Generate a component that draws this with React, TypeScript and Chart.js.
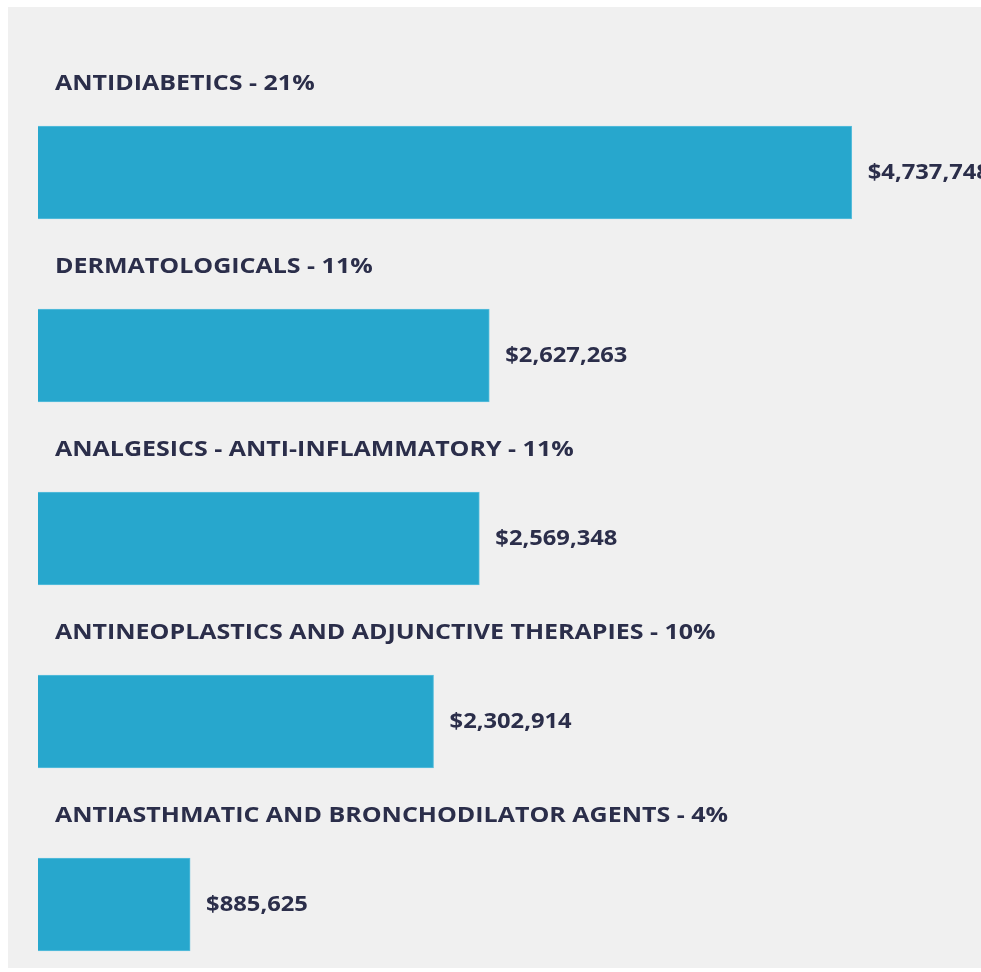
import React, { useEffect, useRef } from "react";
import { Chart, registerables } from "chart.js";

Chart.register(...registerables);

const categories = [
  "ANTIDIABETICS",
  "DERMATOLOGICALS",
  "ANALGESICS - ANTI-INFLAMMATORY",
  "ANTINEOPLASTICS AND ADJUNCTIVE THERAPIES",
  "ANTIASTHMATIC AND BRONCHODILATOR AGENTS",
];
const shares = [21, 11, 11, 10, 4];
const values = [4737748, 2627263, 2569348, 2302914, 885625];

const TEXT = "#2b2e4a";
const FONT = "'Open Sans', sans-serif";
const STRETCH = 1.19;
const VSTRETCH = 1.13;

const fmt = (v: number) => "$" + v.toLocaleString("en-US");

const labelPlugin = {
  id: "barLabels",
  afterDatasetsDraw(chart: any) {
    const ctx = chart.ctx;
    const meta = chart.getDatasetMeta(0);
    ctx.fillStyle = TEXT;
    ctx.textBaseline = "middle";
    ctx.textAlign = "left";
    ctx.font = `bold 21px ${FONT}`;
    meta.data.forEach((bar: any, i: number) => {
      ctx.save();
      ctx.scale(STRETCH, 1);
      ctx.fillText(`${categories[i]} - ${shares[i]}%`, 47 / STRETCH, bar.y - 88.5);
      ctx.restore();
      ctx.save();
      ctx.scale(VSTRETCH, 1);
      ctx.fillText(fmt(values[i]), (bar.x + 16) / VSTRETCH, bar.y + 1);
      ctx.restore();
    });
  },
};

export default function App() {
  const ref = useRef<HTMLCanvasElement>(null);
  useEffect(() => {
    if (!ref.current) return;
    const chart = new Chart(ref.current, {
      type: "bar",
      data: {
        labels: categories,
        datasets: [
          {
            data: values,
            backgroundColor: "#27a7cd",
            borderColor: "#5cbfdc",
            borderWidth: 1,
            barThickness: 93,
            clip: false as any,
          },
        ],
      },
      options: {
        indexAxis: "y",
        animation: false,
        responsive: false,
        maintainAspectRatio: false,
        layout: { padding: { left: 30, right: 0, top: 165.5, bottom: 63.5 } },
        scales: {
          x: { display: false, min: 0, max: 5490000 },
          y: { display: false, offset: false },
        },
        plugins: { legend: { display: false }, tooltip: { enabled: false } },
      },
      plugins: [labelPlugin],
    });
    return () => chart.destroy();
  }, []);
  return (
    <div
      style={{
        position: "absolute",
        left: 8,
        top: 7,
        width: 973,
        height: 961,
        background: "#f0f0f0",
      }}
    >
      <canvas ref={ref} width={973} height={961} style={{ display: "block" }} />
    </div>
  );
}
